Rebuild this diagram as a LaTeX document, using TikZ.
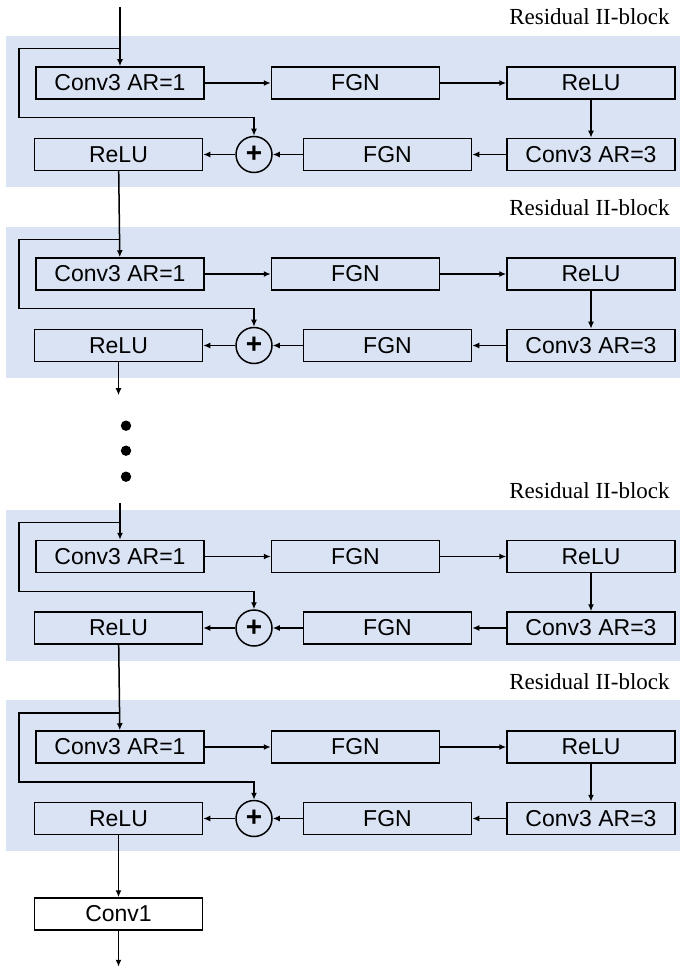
\documentclass[tikz,border=0pt]{standalone}
\usepackage{fontspec}
\setmainfont{Liberation Sans}
\newfontfamily\serifface{Liberation Serif}
\usetikzlibrary{arrows.meta, positioning}
\definecolor{blockblue}{HTML}{DAE3F3}
\tikzset{
	layer/.style={
		rectangle, 
		minimum width=84pt, 
		minimum height=16pt, 
		inner sep=0pt,
		text centered, 
		draw=black, 
		line width=0.75pt,
		fill=blockblue,
		font=\fontsize{11.5}{12}\selectfont
	},
	adder/.style={
		circle, 
		minimum size=18pt, 
		inner sep=0pt,
		draw=black, 
		line width=0.75pt,
		fill=blockblue,
		font=\fontsize{14}{14}\selectfont\bfseries
	},
	caption/.style={
		anchor=base east,
		inner sep=0pt,
		font=\serifface\fontsize{11.5}{12}\selectfont
	},
	arrow/.style={line width=0.75pt,-{Latex[length=3.5pt,width=3pt]}}
}

\begin{document}
\begin{tikzpicture}
	\useasboundingbox (0,0) rectangle (340pt,-483.5pt);
	% four residual blocks
	\foreach \base/\n in {18/a, 113.5/b, 254.75/c, 350/d} {
		\fill [blockblue] (3pt,{-\base*1pt}) rectangle (340pt,{-(\base+75.5)*1pt});
		\node [caption] at (335pt,{-(\base-5.5)*1pt}) {Residual II-block};
		\node (conv\n) [layer] at (60pt,{-(\base+23.5)*1pt}) {Conv3 AR=1};
		\node (fgn\n) [layer, right=33pt of conv\n] {FGN};
		\node (relu\n) [layer, right=33pt of fgn\n] {ReLU};
		\node (wide\n) [layer, below=19pt of relu\n] {Conv3 AR=3};
		\node (norm\n) [layer, left=17pt of wide\n] {FGN};
		\node (sum\n) [adder, left=15pt of norm\n] {+};
		\node (out\n) [layer, left=16pt of sum\n] {ReLU};
		\coordinate (split\n) at ([yshift=8.75pt]conv\n.north);
		
		\draw [arrow] (conv\n) -- (fgn\n);
		\draw [arrow] (fgn\n) -- (relu\n);
		\draw [arrow] (relu\n) -- (wide\n);
		\draw [arrow] (wide\n) -- (norm\n);
		\draw [arrow] (norm\n) -- (sum\n);
		\draw [arrow] (sum\n) -- (out\n);
		\draw [arrow] (split\n) -- ++(-50.5pt,0) |- ([yshift=9pt]sum\n.north) -- (sum\n.north);
	}
	
	\coordinate (in) at (60pt,-3.5pt);
	\coordinate (gapend) at ([yshift=-16.5pt]outb.south);
	\coordinate (gapstart) at ([yshift=18.5pt]convc.north);
	\node (head) [layer, fill=white, below=31pt of outd] {Conv1};
	\coordinate (result) at ([yshift=-18pt]head.south);
	
	\draw [arrow] (in) -- (conva);
	\draw [arrow] (outa) -- (convb);
	\draw [arrow] (outb) -- (gapend);
	\draw [arrow] (gapstart) -- (convc);
	\draw [arrow] (outc) -- (convd);
	\draw [arrow] (outd) -- (head);
	\draw [arrow] (head) -- (result);
	
	% dots between the blocks
	\fill (63pt,-212.85pt) circle (2.6pt);
	\fill (63pt,-225.35pt) circle (2.6pt);
	\fill (63pt,-238.35pt) circle (2.6pt);
\end{tikzpicture}
\end{document}
